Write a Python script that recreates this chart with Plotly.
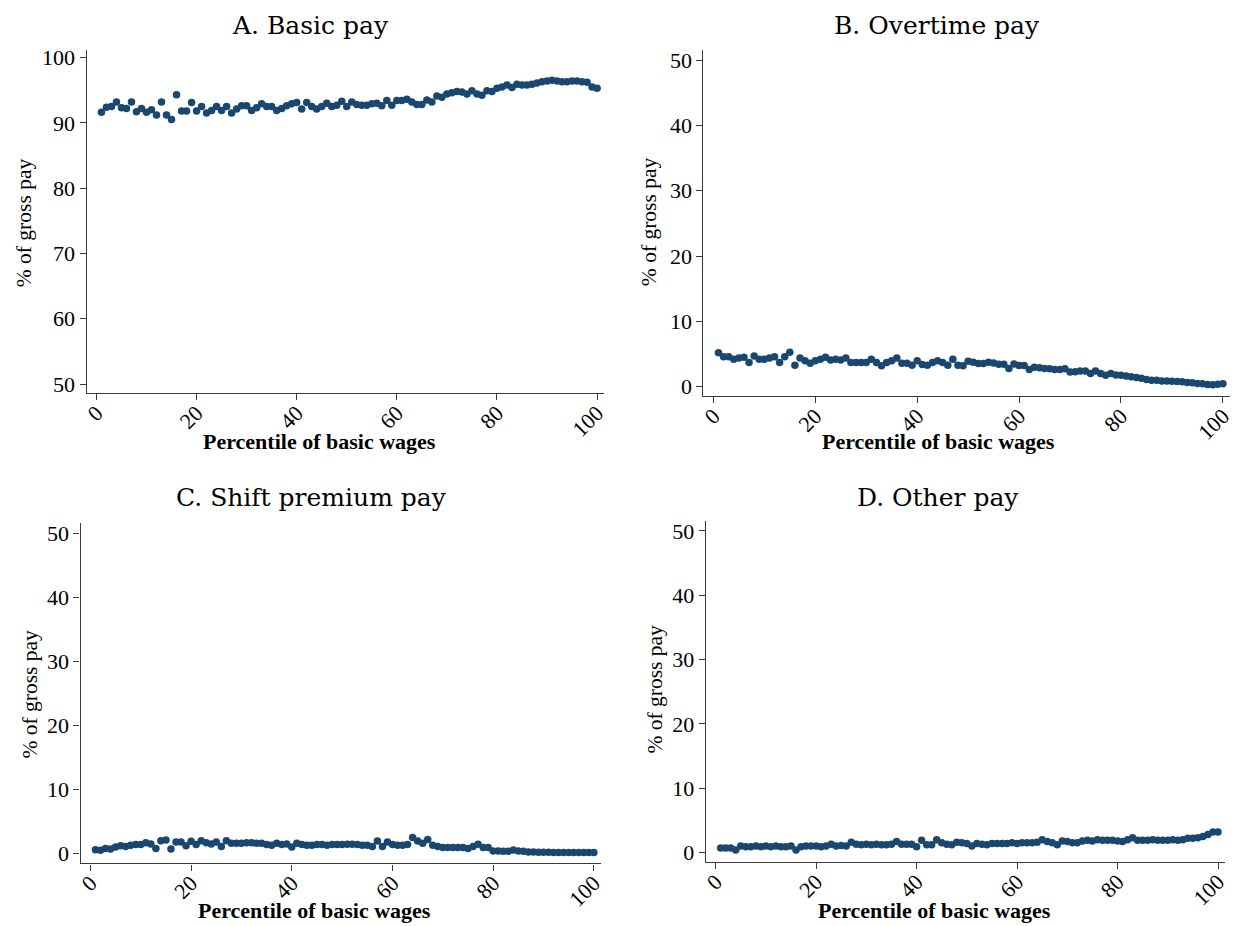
import plotly.graph_objects as go

# Percentile of basic wages (1..100)
percentiles = list(range(1, 101))

basic_pay = [
    91.6, 92.4, 92.5, 93.2, 92.3, 92.2, 93.2, 91.7, 92.2, 91.6,
    92.0, 91.2, 93.2, 91.2, 90.5, 94.3, 91.8, 91.8, 93.1, 91.8,
    92.5, 91.5, 91.9, 92.5, 91.9, 92.5, 91.5, 92.1, 92.6, 92.6,
    91.9, 92.3, 92.9, 92.5, 92.5, 91.9, 92.2, 92.6, 92.9, 93.1,
    92.1, 93.1, 92.5, 92.1, 92.5, 93.0, 92.5, 92.7, 93.3, 92.5,
    93.2, 92.8, 92.7, 92.7, 92.9, 93.0, 92.6, 93.4, 92.7, 93.4,
    93.4, 93.6, 93.2, 92.8, 92.8, 93.5, 93.2, 94.1, 93.9, 94.4,
    94.6, 94.8, 94.7, 94.4, 94.9, 94.4, 94.2, 94.9, 94.8, 95.3,
    95.5, 95.8, 95.4, 95.9, 95.8, 95.8, 95.9, 96.1, 96.3, 96.4,
    96.5, 96.4, 96.3, 96.3, 96.4, 96.4, 96.3, 96.2, 95.5, 95.3,
]

overtime_pay = [
    5.2, 4.6, 4.6, 4.2, 4.4, 4.5, 3.7, 4.7, 4.2, 4.2,
    4.4, 4.6, 3.7, 4.6, 5.3, 3.3, 4.4, 4.0, 3.6, 4.0,
    4.2, 4.5, 4.1, 4.2, 4.1, 4.4, 3.7, 3.7, 3.7, 3.7,
    4.2, 3.7, 3.2, 3.7, 4.0, 4.4, 3.6, 3.6, 3.3, 4.0,
    3.4, 3.3, 3.7, 4.0, 3.7, 3.3, 4.2, 3.3, 3.2, 3.9,
    3.75, 3.55, 3.55, 3.75, 3.65, 3.45, 3.45, 2.8, 3.5, 3.25,
    3.25, 2.65, 3.0, 2.9, 2.8, 2.75, 2.65, 2.65, 2.75, 2.25,
    2.3, 2.4, 2.4, 2.05, 2.4, 2.05, 1.75, 2.05, 1.8, 1.75,
    1.65, 1.55, 1.4, 1.3, 1.1, 1.0, 1.0, 0.9, 0.9, 0.85,
    0.8, 0.75, 0.65, 0.6, 0.5, 0.45, 0.35, 0.3, 0.4, 0.45,
]

shift_premium_pay = [
    0.6, 0.5, 0.8, 0.7, 1.0, 1.2, 1.1, 1.3, 1.4, 1.4,
    1.7, 1.5, 0.8, 2.0, 2.1, 0.7, 1.8, 1.8, 1.2, 1.9,
    1.4, 2.0, 1.7, 1.5, 1.8, 1.1, 2.0, 1.6, 1.6, 1.6,
    1.7, 1.7, 1.6, 1.6, 1.4, 1.3, 1.6, 1.4, 1.5, 1.0,
    1.6, 1.4, 1.3, 1.3, 1.4, 1.4, 1.3, 1.4, 1.4, 1.4,
    1.45, 1.45, 1.4, 1.3, 1.3, 1.1, 1.95, 1.1, 1.8, 1.4,
    1.3, 1.3, 1.4, 2.5, 1.95, 1.6, 2.2, 1.3, 1.1, 0.95,
    0.95, 0.95, 0.95, 0.95, 0.8, 1.1, 1.45, 0.95, 0.95, 0.4,
    0.4, 0.35, 0.35, 0.55, 0.4, 0.35, 0.25, 0.25, 0.2, 0.2,
    0.2, 0.15, 0.15, 0.15, 0.15, 0.15, 0.15, 0.15, 0.15, 0.15,
]

other_pay = [
    0.7, 0.7, 0.7, 0.4, 1.0, 0.9, 0.9, 1.0, 0.9, 1.0,
    0.9, 1.0, 0.9, 0.9, 1.0, 0.4, 0.9, 1.0, 1.0, 1.0,
    0.9, 1.0, 1.3, 1.0, 1.1, 1.0, 1.6, 1.3, 1.2, 1.3,
    1.2, 1.3, 1.2, 1.2, 1.3, 1.7, 1.3, 1.3, 1.3, 0.9,
    1.9, 1.2, 1.2, 2.0, 1.5, 1.3, 1.2, 1.6, 1.5, 1.4,
    1.0, 1.4, 1.3, 1.2, 1.4, 1.4, 1.4, 1.4, 1.5, 1.4,
    1.5, 1.5, 1.5, 1.6, 2.0, 1.7, 1.5, 1.2, 1.8, 1.7,
    1.5, 1.5, 1.8, 1.9, 1.8, 2.0, 1.9, 1.9, 1.9, 1.8,
    1.7, 2.0, 2.3, 1.9, 1.9, 1.9, 2.0, 1.9, 1.9, 1.9,
    2.0, 1.9, 2.0, 2.2, 2.2, 2.3, 2.5, 2.8, 3.2, 3.2,
]

panel_titles = ["A. Basic pay", "B. Overtime pay", "C. Shift premium pay", "D. Other pay"]
x_title = "Percentile of basic wages"
y_title = "% of gross pay"
x_ticks = [0, 20, 40, 60, 80, 100]
y_ticks_basic = [50, 60, 70, 80, 90, 100]
y_ticks_other = [0, 10, 20, 30, 40, 50]

W, H = 1238, 926
MARKER = "#1a476f"
AXIS = "#3a3a3a"
SERIF = "Liberation Serif"
TITLE_FONT = "DejaVu Serif"


def fx(px):
    return px / W


def fy(py):
    return 1 - py / H


# Pixel boxes of each plot area: (left, right, top, bottom)
boxes = [
    (83.2, 604.0, 46.0, 392.3),
    (704.0, 1234.0, 46.0, 395.3),
    (77.1, 600.8, 522.7, 866.0),
    (706.4, 1229.0, 520.6, 864.7),
]
y_ranges = [[48.58, 101.2], [-1.46, 51.6], [-1.55, 51.65], [-1.5, 51.6]]
x_range = [-1.95, 101.4]
series = [basic_pay, overtime_pay, shift_premium_pay, other_pay]

# Text positions in pixels
title_pos = [(308, 22), (939, 22), (309, 497), (940, 497)]
ytitle_pos = [(20, 220), (650, 219), (26, 695), (655, 690)]
xtitle_pos = [(318, 441), (941, 441), (313, 913), (937, 913)]

fig = go.Figure()
layout = dict(
    width=W, height=H,
    margin=dict(l=0, r=0, t=0, b=0),
    paper_bgcolor="white", plot_bgcolor="white",
    showlegend=False,
)
annotations = []

for i in range(4):
    n = i + 1
    xa = "x" if n == 1 else f"x{n}"
    ya = "y" if n == 1 else f"y{n}"
    fig.add_trace(go.Scatter(
        x=percentiles, y=series[i], mode="markers",
        marker=dict(color=MARKER, size=7.5, line=dict(width=0)),
        xaxis=xa, yaxis=ya, hoverinfo="x+y",
    ))
    l, r, t, b = boxes[i]
    common = dict(
        showline=True, linecolor=AXIS, linewidth=1.3,
        ticks="outside", ticklen=6, tickwidth=1.3, tickcolor=AXIS,
        showgrid=False, zeroline=False,
        tickfont=dict(family=SERIF, size=22, color="black"),
    )
    layout["xaxis" if n == 1 else f"xaxis{n}"] = dict(
        common, domain=[fx(l), fx(r)], range=x_range,
        tickvals=x_ticks, tickangle=-45, ticklabelstandoff=-9,
        anchor=ya,
    )
    layout["yaxis" if n == 1 else f"yaxis{n}"] = dict(
        common, domain=[fy(b), fy(t)], range=y_ranges[i],
        tickvals=y_ticks_basic if i == 0 else y_ticks_other,
        anchor=xa,
    )
    tx, ty = title_pos[i]
    annotations.append(dict(
        text=panel_titles[i], x=fx(tx), y=fy(ty), xref="paper", yref="paper",
        showarrow=False, xanchor="center", yanchor="middle",
        font=dict(family=TITLE_FONT, size=25, color="black"),
    ))
    yx, yy = ytitle_pos[i]
    annotations.append(dict(
        text=y_title, x=fx(yx), y=fy(yy), xref="paper", yref="paper",
        showarrow=False, xanchor="center", yanchor="middle", textangle=-90,
        font=dict(family=SERIF, size=21.5, color="black"),
    ))
    xx, xy = xtitle_pos[i]
    annotations.append(dict(
        text=f"<b>{x_title}</b>", x=fx(xx), y=fy(xy), xref="paper", yref="paper",
        showarrow=False, xanchor="center", yanchor="middle",
        font=dict(family=SERIF, size=22, color="black"),
    ))

layout["annotations"] = annotations
fig.update_layout(**layout)
fig.write_html("out.html")
